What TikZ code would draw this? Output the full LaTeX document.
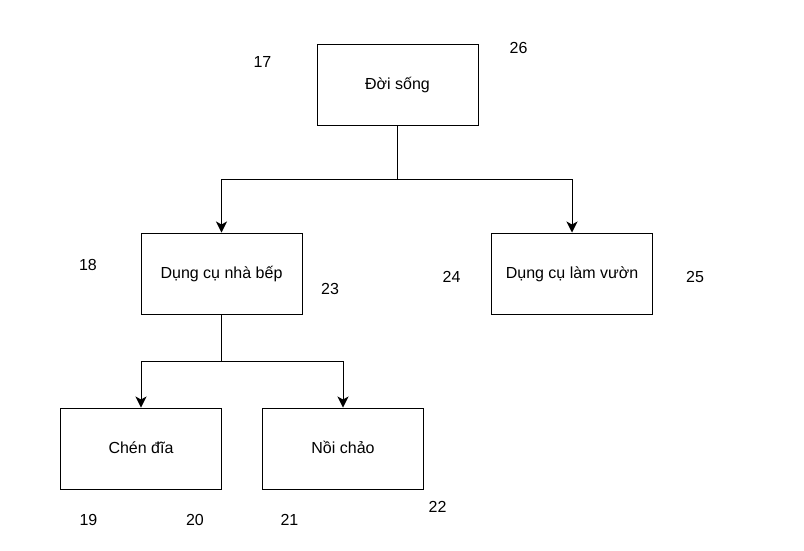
\documentclass[tikz,border=0pt]{standalone}
\usepackage{fontspec}
\setmainfont{Liberation Sans}
\usetikzlibrary{calc,arrows.meta}

\begin{document}
\begin{tikzpicture}
                [x=1pt, y=-1pt,
                every node/.style={font=\fontsize{16}{19}\selectfont},
                bsty/.style={rectangle, draw=black, line width=1pt, minimum width=161pt, minimum height=81pt, inner sep=0pt, text height=13pt, text depth=4pt},
                lsty/.style={inner sep=0pt},
                asty/.style={-{Stealth[length=11pt, width=11pt, inset=3pt]}, line width=1pt},
                csty/.style={line width=1pt}]
                \useasboundingbox (0,0) rectangle (804,550);
                % top level
                \node[bsty] (life) at (397.5,85) {Đời sống};
                \node[bsty] (kitchen) at (221.5,273.5) {Dụng cụ nhà bếp};
                \node[bsty] (garden) at (572,273.5) {Dụng cụ làm vườn};
                \coordinate (j1) at (397.5,179);
                \draw[csty] (life.south) -- (j1);
                \draw[asty] (j1) -| (kitchen.north);
                \draw[asty] (j1) -| (garden.north);
                % kitchen items
                \node[bsty] (bowls) at (141,448.5) {Chén đĩa};
                \node[bsty] (pans) at (343,448.5) {Nồi chảo};
                \coordinate (j2) at (221.5,361);
                \draw[csty] (kitchen.south) -- (j2);
                \draw[asty] (j2) -| (bowls.north);
                \draw[asty] (j2) -| (pans.north);
                % numbers
                \node[lsty] (n17) at (262.5,61.5) {17};
                \node[lsty] (n26) at (518.5,48) {26};
                \node[lsty] (n18) at (88,265) {18};
                \node[lsty] (n23) at (330,288.5) {23};
                \node[lsty] (n24) at (451.5,276.5) {24};
                \node[lsty] (n25) at (695,276.5) {25};
                \node[lsty] (n19) at (88.5,520) {19};
                \node[lsty] (n20) at (195,520) {20};
                \node[lsty] (n21) at (289.5,520) {21};
                \node[lsty] (n22) at (437.5,507) {22};
            \end{tikzpicture}
\end{document}
